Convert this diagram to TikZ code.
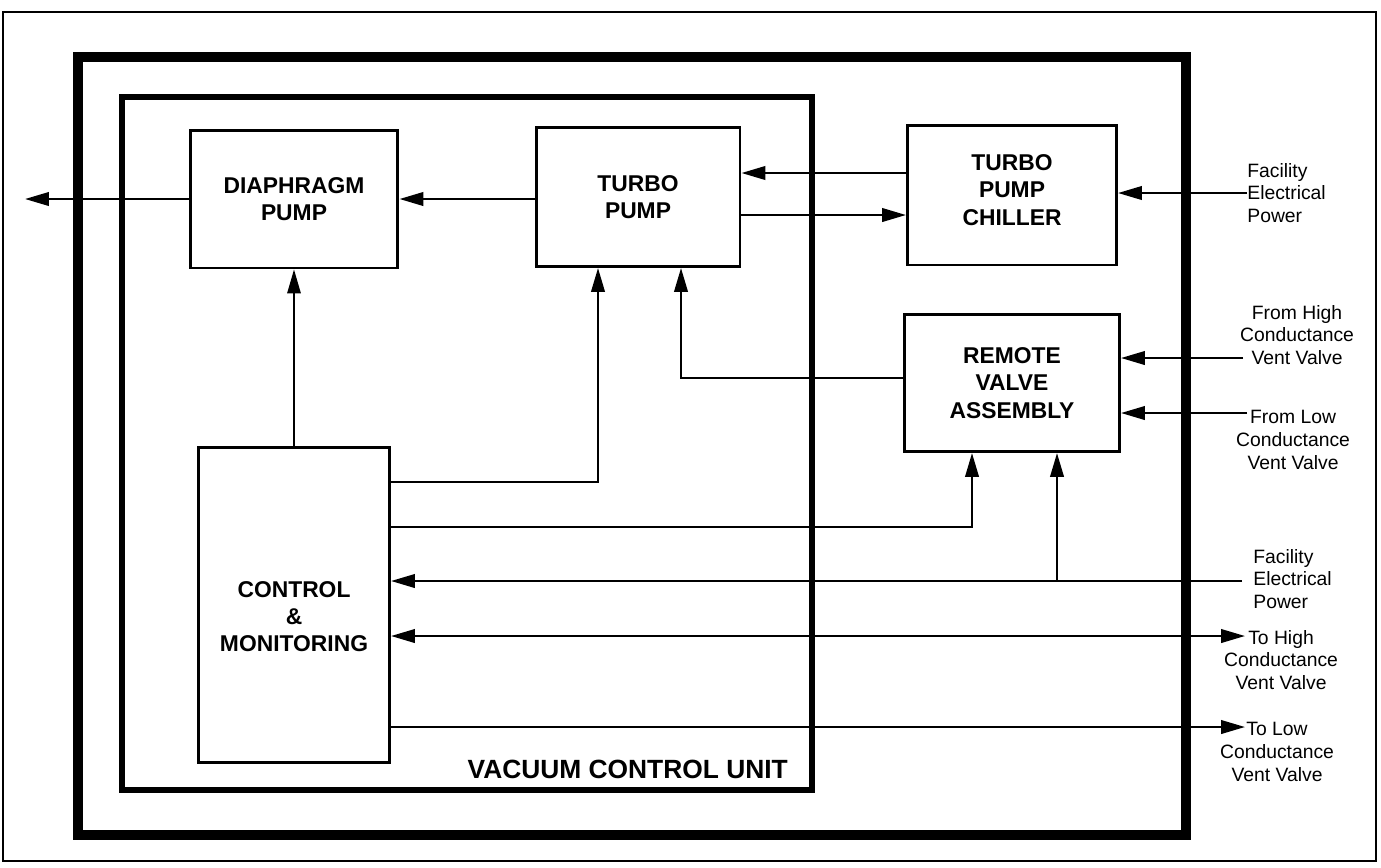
\documentclass[tikz,border=0pt]{standalone}
\usepackage{fontspec}
\setmainfont{Liberation Sans}
\usetikzlibrary{arrows.meta,positioning}

\begin{document}
\begin{tikzpicture}[x=0.02cm,y=-0.02cm,
  blktxt/.style={align=center,inner sep=0pt,font=\fontsize{13}{15.5}\selectfont\bfseries},
  blk/.style={draw,line width=1.7pt,blktxt},
  sig/.style={line width=1.4pt,-{Triangle[length=0.48cm,width=0.27cm]}},
  bidir/.style={line width=1.4pt,{Triangle[length=0.48cm,width=0.27cm]}-{Triangle[length=0.48cm,width=0.27cm]}},
  lbl/.style={align=center,inner sep=0pt,font=\fontsize{11}{13}\selectfont}]

\useasboundingbox (0,0) rectangle (1381,867);
% frames
\draw[line width=1pt] (3,12) rectangle (1376,861);
\draw[line width=5.2pt] (78,57) rectangle (1186,835);
\draw[line width=3pt] (122,97) rectangle (812,790);
\node[font=\fontsize{15}{18}\selectfont\bfseries,anchor=base east] (vcu) at (794,778) {VACUUM CONTROL UNIT};

% blocks
\node[blk,minimum width=4.16cm,minimum height=2.76cm] (diaph) at (294,199) {DIAPHRAGM\\PUMP};
\node[blk,minimum width=4.08cm,minimum height=2.78cm] (turbo) at (638,197) {TURBO\\PUMP};
\node[blk,minimum width=4.18cm,minimum height=2.8cm,
  label={[blktxt,yshift=0.1cm]center:TURBO\\PUMP\\CHILLER}] (chill) at (1012,195) {};
\node[blk,minimum width=4.3cm,minimum height=2.74cm] (rva) at (1012,383) {REMOTE\\VALVE\\ASSEMBLY};
\node[blk,minimum width=3.82cm,minimum height=6.32cm,
  label={[blktxt,yshift=-0.23cm]center:CONTROL\\\&\\MONITORING}] (ctrl) at (294,605) {};

% outside labels and free ends
\coordinate (exh) at (25,199);
\node[lbl,align=left,anchor=west] (pwra) at (1247,193) {Facility\\Electrical\\Power};
\node[lbl] (hifrom) at (1297,335) {From High\\Conductance\\Vent Valve};
\node[lbl] (lofrom) at (1293,440) {From Low\\Conductance\\Vent Valve};
\node[lbl,align=left,anchor=west] (pwrb) at (1253,579) {Facility\\Electrical\\Power};
\node[lbl] (hito) at (1281,660) {To High\\Conductance\\Vent Valve};
\node[lbl] (loto) at (1277,752) {To Low\\Conductance\\Vent Valve};
\coordinate (hiin) at (1243,358);
\coordinate (loin) at (1247,413);
\coordinate (pwrtap) at (1242,581);
\coordinate (hiout) at (1245,636);
\coordinate (loout) at (1245,727);

% connectors
\draw[sig] (diaph.west) -- (exh);
\draw[sig] (turbo.west |- diaph.east) -- (diaph.east);
\draw[sig] (chill.west |- 0,173) -- (turbo.east |- 0,173);
\draw[sig] (turbo.east |- 0,215) -- (chill.west |- 0,215);
\draw[sig] (pwra.west) -- (pwra.west -| chill.east);
\draw[sig] (hiin) -- (hiin -| rva.east);
\draw[sig] (loin) -- (loin -| rva.east);
\draw[sig] (rva.west |- 0,378) -| (turbo.south -| 681,0);
\draw[sig,line width=0.9pt] (ctrl.north) -- (diaph.south);
\draw[sig] (ctrl.east |- 0,482) -| (turbo.south -| 598,0);
\draw[sig] (ctrl.east |- 0,527) -| (rva.south -| 972,0);
\draw[sig] (pwrtap) -- (pwrtap -| ctrl.east);
\draw[sig] (pwrtap -| 1057,0) -- (rva.south -| 1057,0);
\draw[bidir] (hiout -| ctrl.east) -- (hiout);
\draw[sig] (loout -| ctrl.east) -- (loout);
\end{tikzpicture}
\end{document}
